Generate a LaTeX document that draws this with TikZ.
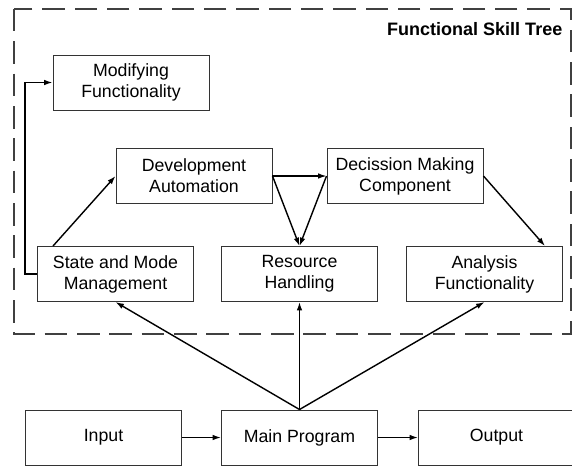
\documentclass[tikz,border=0pt]{standalone}
\usepackage{fontspec}
\setmainfont{Liberation Sans}
\usetikzlibrary{arrows.meta}
\tikzset{
	skillbox/.style={draw=black!80, line width=0.7pt, minimum width=3.9cm, minimum height=1.375cm, align=center, font=\fontsize{12.6}{15}\selectfont},
	link/.style={line width=1pt, -{Latex[length=6pt,width=4pt]}}
}
\begin{document}
\begin{tikzpicture}
		\useasboundingbox (0,0) rectangle (14.3,-11.625);
		\clip (0,0) rectangle (14.3,-11.625);
		
		\draw[line width=1.4pt, black!75, dash pattern=on 16pt off 7pt] (0.35,-0.225) rectangle (14.28,-8.35);
		\node[anchor=east, font=\fontsize{12.8}{14}\selectfont\bfseries] (title) at (14.18,-0.72) {Functional Skill Tree};
		
		\node[skillbox] (mod) at (3.275,-2.0625) {Modifying\\Functionality};
		\node[skillbox] (dev) at (4.85,-4.4) {Development\\Automation};
		\node[skillbox] (dec) at (10.125,-4.4) {Decission Making\\Component};
		\node[skillbox] (state) at (2.8875,-6.85) {State and Mode\\Management};
		\node[skillbox] (res) at (7.4875,-6.85) {Resource\\Handling};
		\node[skillbox] (ana) at (12.1125,-6.85) {Analysis\\Functionality};
		
		\node[skillbox] (in) at (2.5875,-10.9375) {Input};
		\node[skillbox] (main) at (7.4875,-10.9375) {Main Program};
		\node[skillbox] (out) at (12.4125,-10.9375) {Output};
		
		\draw[link] (state.west) -- ++(-0.3,0) |- (mod.west);
		\draw[link] ([xshift=0.4cm]state.north west) -- (dev.west);
		\draw[link] (dev.east) -- (dec.west);
		\draw[link] (dev.east) -- (res.north);
		\draw[link] (dec.west) -- (res.north);
		\draw[link] (dec.east) -- ([xshift=-0.45cm]ana.north east);
		
		\draw[link] (main.north) -- (state.south);
		\draw[link] (main.north) -- (res.south);
		\draw[link] (main.north) -- (ana.south);
		
		\draw[link] (in.east) -- (main.west);
		\draw[link] (main.east) -- (out.west);
	\end{tikzpicture}
\end{document}
